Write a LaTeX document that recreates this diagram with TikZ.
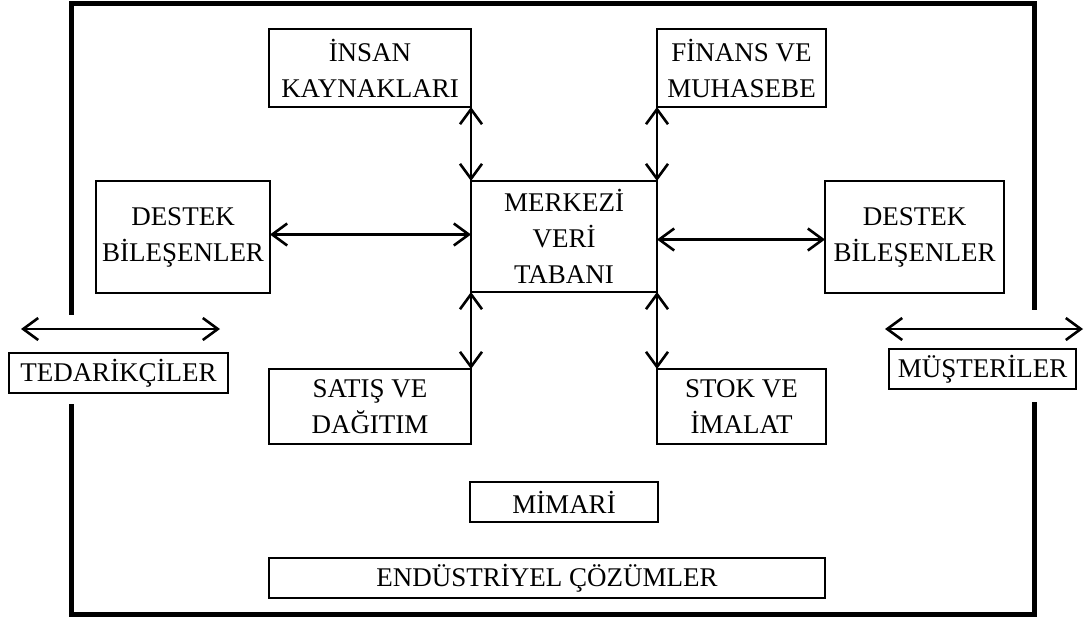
\documentclass[tikz,border=0pt]{standalone}
\usepackage{fontspec}
\setmainfont{Liberation Serif}
\usetikzlibrary{arrows.meta}
\begin{document}
\begin{tikzpicture}[x=1pt,y=-1pt,
  box/.style={draw, line width=2.8pt, inner sep=0pt, outer sep=0pt, align=center,
    font=\fontsize{27}{36}\selectfont},
  arr/.style={line width=2.6pt,
    {Straight Barb[length=15pt,width=22pt]}-{Straight Barb[length=15pt,width=22pt]}},
  frame/.style={line width=5pt, line join=miter, line cap=rect}]
\useasboundingbox (0,0) rectangle (1089,619);
% outer frame
\draw[frame] (71,312) -- (71,3) -- (1034,3) -- (1034,307);
\draw[frame] (71,406) -- (71,614) -- (1034,614) -- (1034,404);
% boxes
\node[box, minimum width=202pt, minimum height=78pt] (ik) at (370,68) {İNSAN\\KAYNAKLARI};
\node[box, minimum width=169pt, minimum height=78pt] (fm) at (741.5,68) {FİNANS VE\\MUHASEBE};
\node[box, minimum width=174pt, minimum height=112pt] (dl) at (183,237) {DESTEK\\BİLEŞENLER};
\node[box, minimum width=186pt, minimum height=111pt] (m) at (564,236.5) {MERKEZİ\\VERİ\\TABANI};
\node[box, minimum width=179pt, minimum height=112pt] (dr) at (914.5,237) {DESTEK\\BİLEŞENLER};
\node[box, minimum width=202pt, minimum height=75pt] (sd) at (370,406.5) {SATIŞ VE\\DAĞITIM};
\node[box, minimum width=169pt, minimum height=75pt] (si) at (741.5,406.5) {STOK VE\\İMALAT};
\node[box, minimum width=219pt, minimum height=40pt] (ted) at (118.5,373) {TEDARİKÇİLER};
\node[box, minimum width=187pt, minimum height=40pt] (mus) at (982.5,369) {MÜŞTERİLER};
\node[box, minimum width=188pt, minimum height=40pt] (mim) at (564,502) {MİMARİ};
\node[box, minimum width=556pt, minimum height=40pt] (end) at (547,578) {ENDÜSTRİYEL ÇÖZÜMLER};
% connectors
\draw[arr] (ik.south east) -- (m.north west);
\draw[arr] (fm.south west) -- (m.north east);
\draw[arr] (sd.north east) -- (m.south west);
\draw[arr] (si.north west) -- (m.south east);
\draw[arr] ([yshift=2.5pt]dl.east) -- ([yshift=2.5pt]dl.east -| m.west);
\draw[arr] ([yshift=-3pt]m.east) -- ([yshift=-3pt]m.east -| dr.west);
% external arrows
\coordinate (t1) at (21,329);
\coordinate (t2) at (220,329);
\coordinate (u1) at (885,329);
\coordinate (u2) at (1083,329);
\draw[arr] (t1) -- (t2);
\draw[arr] (u1) -- (u2);
\end{tikzpicture}
\end{document}
